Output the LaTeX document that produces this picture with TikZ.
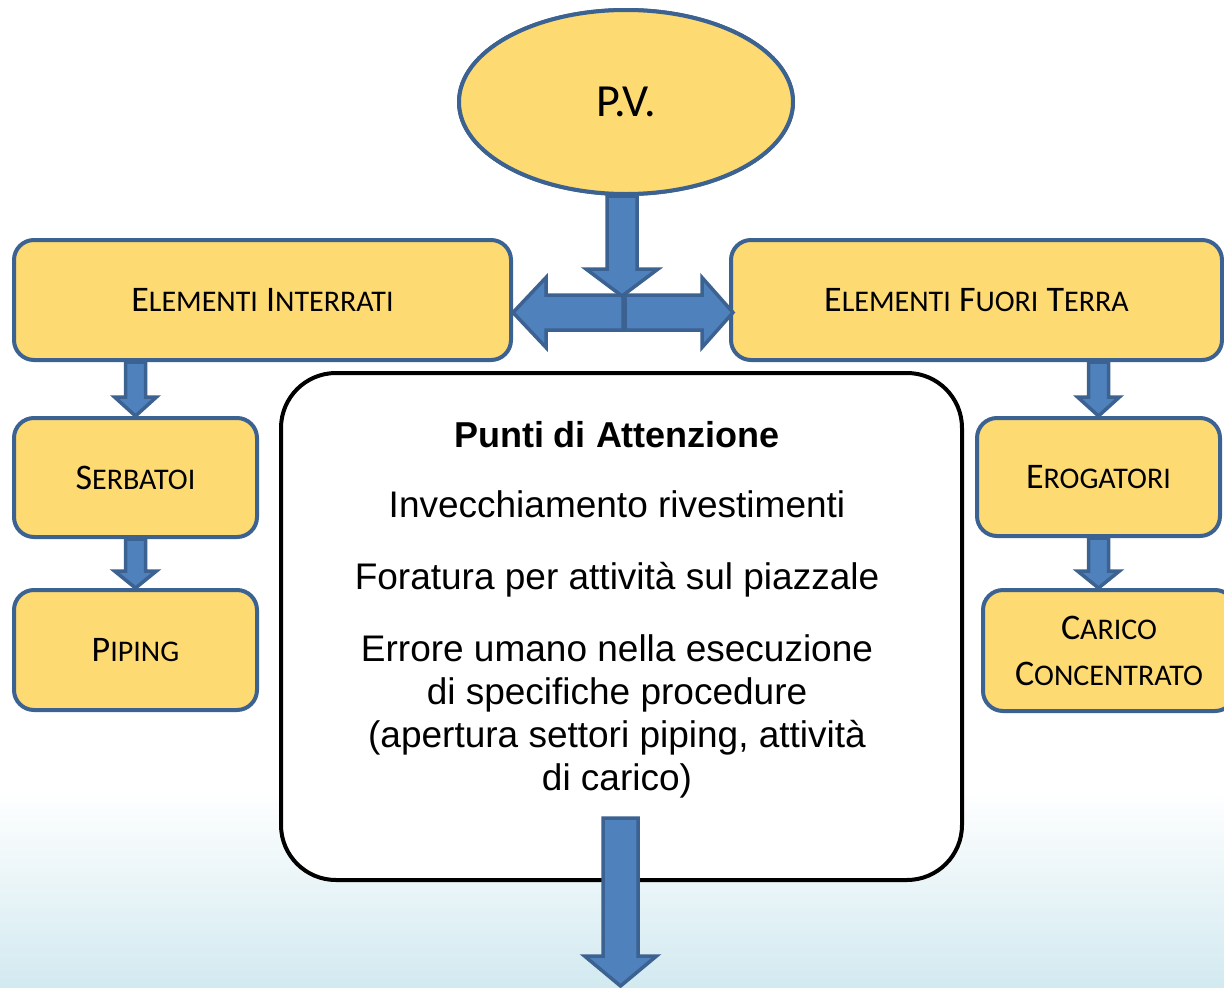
\documentclass[tikz,border=0pt]{standalone}
\usepackage{fontspec}
\setmainfont{Liberation Sans}
\newfontfamily\calfont{Carlito}
\usetikzlibrary{shapes.geometric,calc}
\definecolor{boxfill}{RGB}{254,218,115}
\definecolor{boxline}{RGB}{60,98,145}
\definecolor{arrfill}{RGB}{79,129,189}
\definecolor{bgblue}{RGB}{210,233,240}
\newcommand\smc[1]{{\fontsize{30}{34}\selectfont #1}}
% vertical block arrow: start, tip, shaft half width, head half width, head length
\newcommand\vblock[5]{\draw[barrow] let \p1=(#1), \p2=(#2) in
  (\x2-#3pt,\y1) -- (\x2+#3pt,\y1) -- (\x2+#3pt,\y2+#5pt) -- (\x2+#4pt,\y2+#5pt)
  -- (\x2,\y2) -- (\x2-#4pt,\y2+#5pt) -- (\x2-#3pt,\y2+#5pt) -- cycle;}
% horizontal block arrow: start, tip, shaft half height, head half height, signed head length
\newcommand\hblock[5]{\draw[barrow] let \p1=(#1), \p2=(#2) in
  (\x1,\y2-#3pt) -- (\x1,\y2+#3pt) -- (\x2+#5pt,\y2+#3pt) -- (\x2+#5pt,\y2+#4pt)
  -- (\x2,\y2) -- (\x2+#5pt,\y2-#4pt) -- (\x2+#5pt,\y2-#3pt) -- cycle;}
\begin{document}
\begin{tikzpicture}[x=1pt,y=-1pt,
  ybox/.style={draw=boxline, fill=boxfill, line width=4pt, rounded corners=20pt,
    inner sep=0pt, align=center, font=\calfont\fontsize{36}{46}\selectfont},
  barrow/.style={draw=boxline, fill=arrfill, line width=3.5pt, line join=miter},
  mainbox/.style={draw=black, fill=white, line width=4pt, rounded corners=55pt, inner sep=0pt},
  bodytext/.style={font=\fontsize{37}{43}\selectfont, align=center, inner sep=0pt, anchor=base}]
\useasboundingbox (0,0) rectangle (1224,988);
\clip (0,0) rectangle (1224,988);
\fill[white] (0,0) rectangle (1224,988);
\shade[top color=white, bottom color=bgblue] (0,790) rectangle (1224,989);

% boxes
\node[ybox, minimum width=497pt, minimum height=120pt] (ei) at (262.5,300) {E\smc{LEMENTI} I\smc{NTERRATI}};
\node[ybox, minimum width=491pt, minimum height=120pt] (eft) at (976.5,300) {E\smc{LEMENTI} F\smc{UORI} T\smc{ERRA}};
\node[ybox, minimum width=243pt, minimum height=119pt] (serb) at (135.5,477.5) {S\smc{ERBATOI}};
\node[ybox, minimum width=243pt, minimum height=120pt] (pip) at (135.5,650) {P\smc{IPING}};
\node[ybox, minimum width=243pt, minimum height=118pt] (erog) at (1098.5,477) {E\smc{ROGATORI}};
\node[ybox, minimum width=252pt, minimum height=121pt] (car) at (1109,650.5) {C\smc{ARICO}\\C\smc{ONCENTRATO}};

% central box
\node[mainbox, minimum width=681pt, minimum height=507pt] (pa) at (621.5,626.5) {};
\node[bodytext, font=\bfseries\fontsize{36}{43}\selectfont] (tit) at (617,447) {Punti di Attenzione};
\node[bodytext] (p1) at (617,517) {Invecchiamento rivestimenti};
\node[bodytext] (p2) at (617,589) {Foratura per attività sul piazzale};
\node[bodytext] (p3) at (617,790) {Errore umano nella esecuzione\\di specifiche procedure\\(apertura settori piping, attività\\di carico)};

% connectors
\coordinate (jn) at (622,296);
\coordinate (jl) at (623,312.5);
\coordinate (jr) at (625,312.5);
\coordinate (lt) at (513,312.5);
\coordinate (rt) at (733,312.5);
\coordinate (bs) at (620.5,818);
\coordinate (be) at (620.5,986);
\hblock{jl}{lt}{17.5}{35}{33}
\hblock{jr}{rt}{17.5}{35}{-31}
\node[ellipse, draw=boxline, fill=boxfill, line width=4pt, minimum width=334pt, minimum height=184pt,
  inner sep=0pt, font=\calfont\fontsize{46}{50}\selectfont] (pv) at (626,102) {P.V.};
\vblock{pv.south}{jn}{15}{36}{27}
\node[ellipse, draw=boxline, fill=boxfill, line width=4pt, minimum width=334pt, minimum height=184pt,
  inner sep=0pt, font=\calfont\fontsize{46}{50}\selectfont] at (pv) {P.V.};
\vblock{ei.south -| serb.north}{serb.north}{10}{21}{19}
\vblock{serb.south}{pip.north}{10}{21}{17}
\vblock{eft.south -| erog.north}{erog.north}{10}{21}{19}
\vblock{erog.south}{erog.south |- car.north}{10}{21}{17}
\vblock{bs}{be}{17.5}{36}{30}
\end{tikzpicture}
\end{document}
